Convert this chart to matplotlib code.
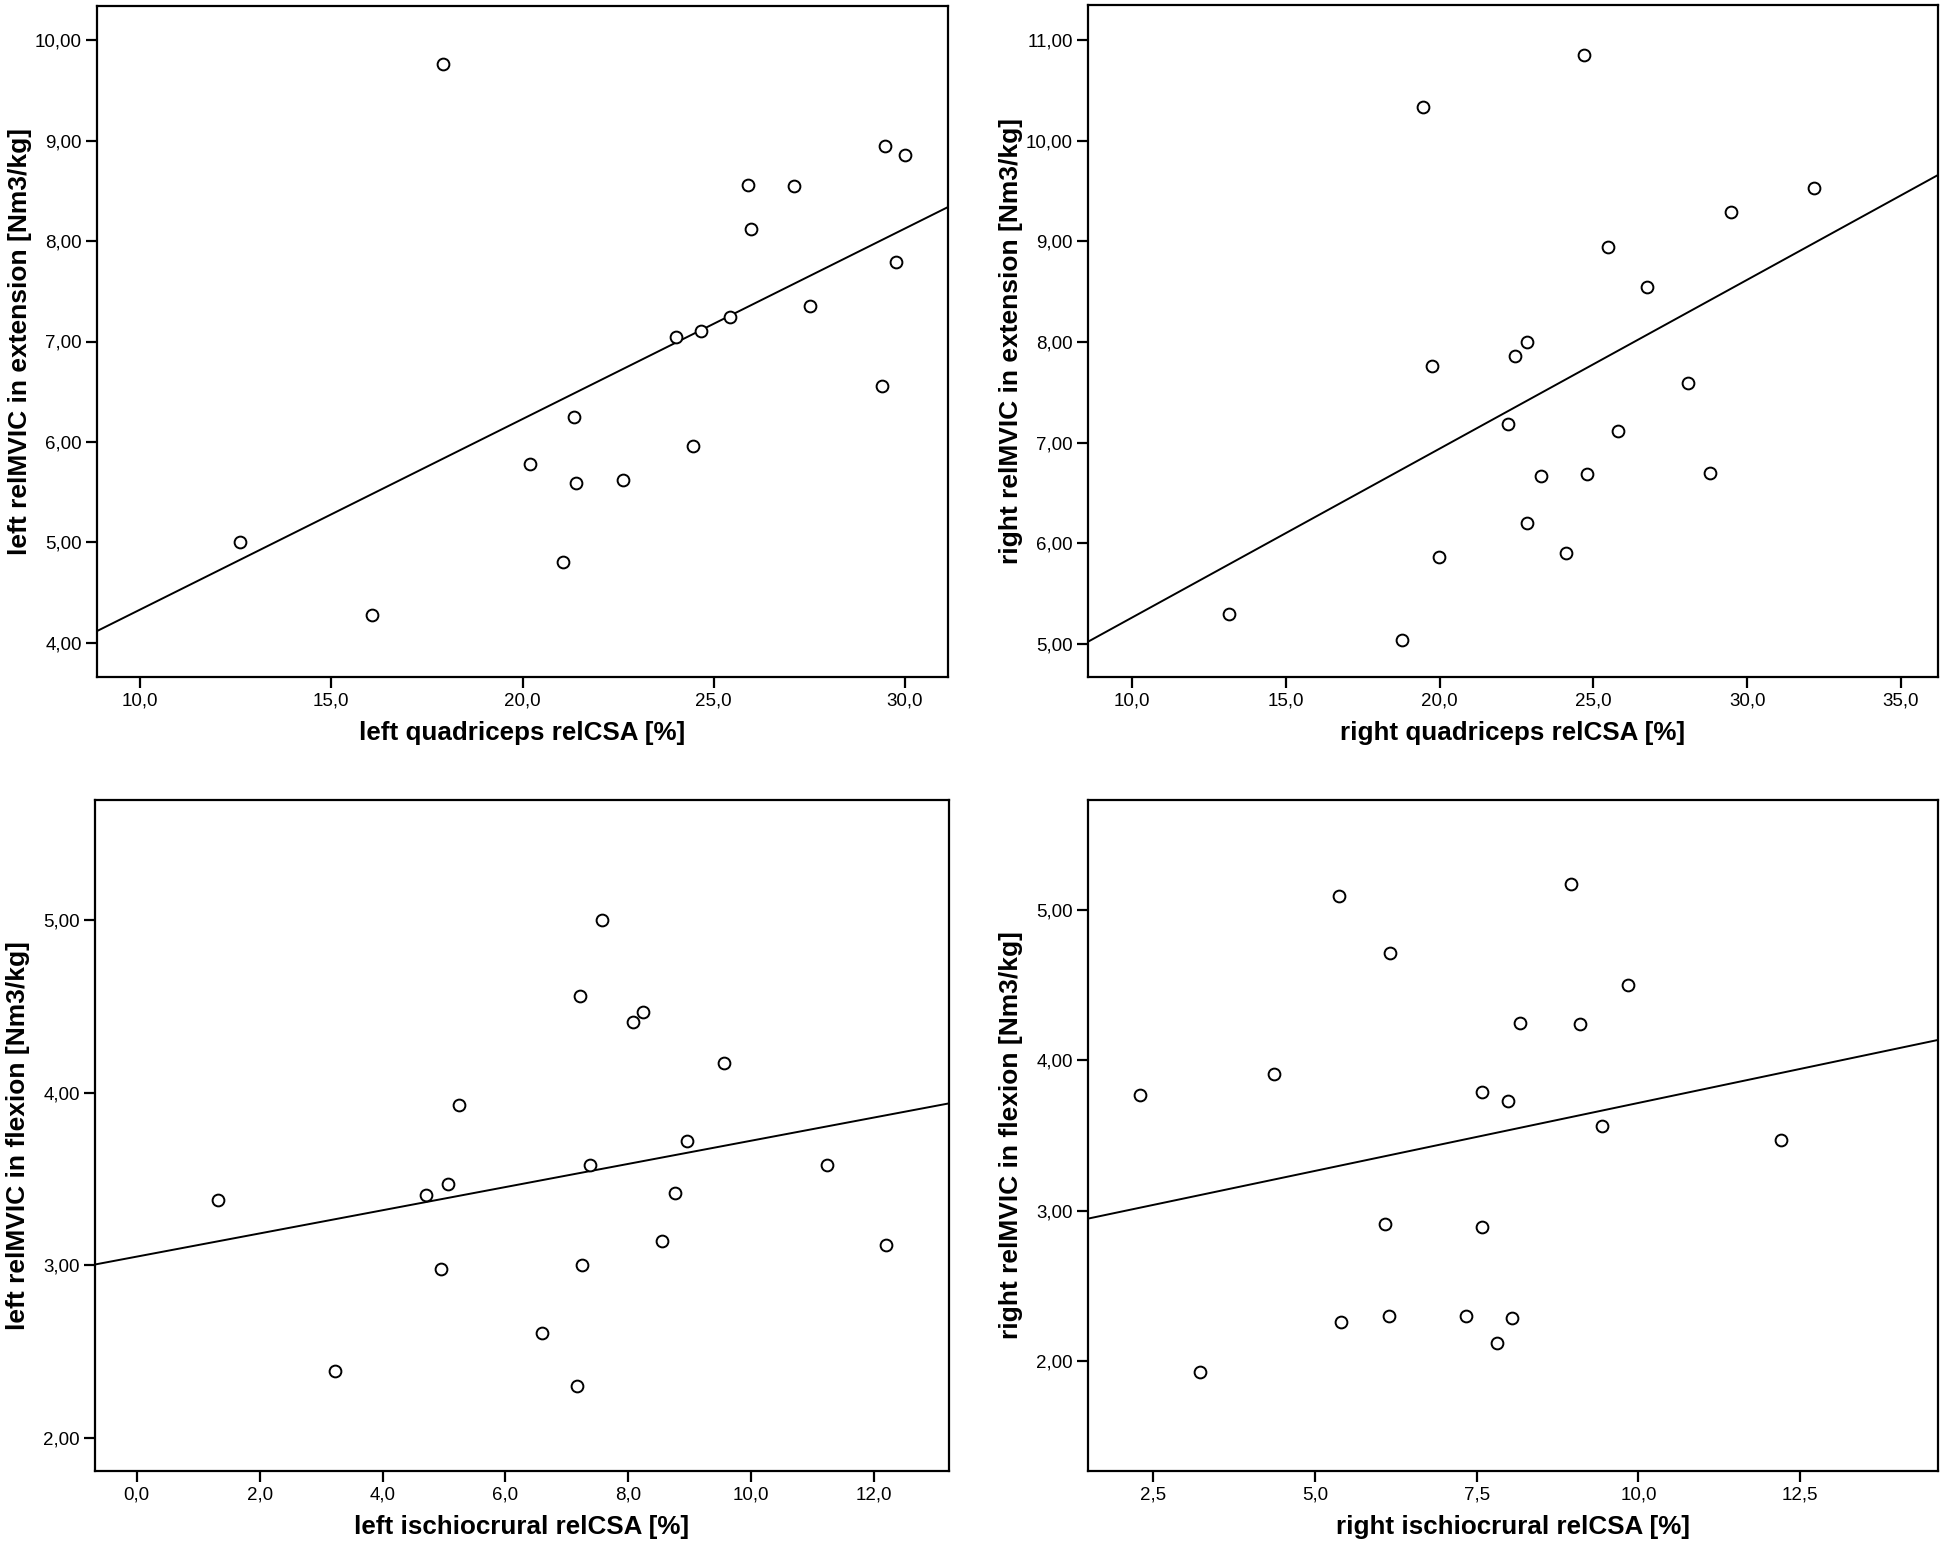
import numpy as np
import matplotlib
matplotlib.use("Agg")
import matplotlib.pyplot as plt
from matplotlib.ticker import FuncFormatter, FixedLocator

# ---------------- data ----------------
left_quad_csa = [12.60, 16.07, 17.93, 20.19, 21.07, 21.36, 21.40, 22.64, 24.01, 24.45,
                 24.68, 25.44, 25.90, 25.97, 27.11, 27.53, 29.40, 29.48, 29.77, 30.00]
left_ext_mvic = [5.00, 4.28, 9.76, 5.78, 4.80, 6.25, 5.59, 5.62, 7.04, 5.96,
                 7.10, 7.24, 8.56, 8.12, 8.55, 7.35, 6.56, 8.95, 7.79, 8.86]

right_quad_csa = [13.16, 18.79, 19.47, 19.76, 19.98, 22.23, 22.45, 22.83, 22.83, 23.28,
                  24.11, 24.70, 24.78, 25.47, 25.81, 26.74, 28.06, 28.79, 29.47, 32.17]
right_ext_mvic = [5.30, 5.04, 10.34, 7.76, 5.86, 7.18, 7.86, 8.00, 6.20, 6.67,
                  5.90, 10.85, 6.69, 8.94, 7.12, 8.55, 7.59, 6.70, 9.29, 9.53]

left_isch_csa = [1.32, 3.22, 4.71, 4.95, 5.06, 5.24, 6.59, 7.17, 7.21, 7.25,
                 7.37, 7.57, 8.07, 8.24, 8.55, 8.76, 8.96, 9.55, 11.24, 12.19]
left_flex_mvic = [3.377, 2.39, 3.41, 2.98, 3.47, 3.93, 2.61, 2.30, 4.56, 3.00,
                  3.58, 5.00, 4.41, 4.47, 3.14, 3.42, 3.72, 4.17, 3.58, 3.12]

right_isch_csa = [2.30, 3.22, 4.375, 5.375, 5.40, 6.08, 6.14, 6.16, 7.34, 7.58,
                  7.58, 7.82, 7.98, 8.04, 8.17, 8.96, 9.10, 9.44, 9.84, 12.20]
right_flex_mvic = [3.77, 1.93, 3.91, 5.09, 2.26, 2.91, 2.30, 4.71, 2.30, 3.79,
                   2.89, 2.12, 3.73, 2.29, 4.245, 5.17, 4.24, 3.56, 4.50, 3.47]

x_labels = ["left quadriceps relCSA [%]", "right quadriceps relCSA [%]",
            "left ischiocrural relCSA [%]", "right ischiocrural relCSA [%]"]
y_labels = ["left relMVIC in extension [Nm3/kg]", "right relMVIC in extension [Nm3/kg]",
            "left relMVIC in flexion [Nm3/kg]", "right relMVIC in flexion [Nm3/kg]"]

x_ticks = [[10, 15, 20, 25, 30], [10, 15, 20, 25, 30, 35],
           [0, 2, 4, 6, 8, 10, 12], [2.5, 5, 7.5, 10, 12.5]]
y_ticks = [[4, 5, 6, 7, 8, 9, 10], [5, 6, 7, 8, 9, 10, 11],
           [2, 3, 4, 5], [2, 3, 4, 5]]
x_lims = [(8.87, 31.13), (8.57, 36.2), (-0.68, 13.22), (1.495, 14.63)]
y_lims = [(3.66, 10.34), (4.67, 11.35), (1.81, 5.695), (1.27, 5.73)]

xs = [left_quad_csa, right_quad_csa, left_isch_csa, right_isch_csa]
ys = [left_ext_mvic, right_ext_mvic, left_flex_mvic, right_flex_mvic]

label_font = "Liberation Sans"
tick_font = "Liberation Sans"

W, H = 1946, 1546
fig = plt.figure(figsize=(W / 100, H / 100), dpi=100)

# axes boxes in pixels: left, top, right, bottom
boxes = [(97, 6, 948, 677), (1088, 5, 1938, 677),
         (95, 800, 949, 1471), (1088, 800, 1938, 1471)]

def comma_fmt(decimals):
    return FuncFormatter(lambda v, p: f"{v:.{decimals}f}".replace(".", ","))

for i in range(4):
    l, t, r, b = boxes[i]
    ax = fig.add_axes([l / W, 1 - b / H, (r - l) / W, (b - t) / H])
    x = np.array(xs[i]); y = np.array(ys[i])
    ax.scatter(x, y, s=72, facecolors="white", edgecolors="black", linewidths=1.4, zorder=3)
    slope, intercept = np.polyfit(x, y, 1)
    xl = np.array(x_lims[i])
    ax.plot(xl, intercept + slope * xl, color="black", lw=1.4, zorder=2)
    ax.set_xlim(*x_lims[i]); ax.set_ylim(*y_lims[i])
    ax.xaxis.set_major_locator(FixedLocator(x_ticks[i]))
    ax.yaxis.set_major_locator(FixedLocator(y_ticks[i]))
    ax.xaxis.set_major_formatter(comma_fmt(1))
    ax.yaxis.set_major_formatter(comma_fmt(2))
    ax.tick_params(direction="out", length=8, width=1.6, pad=3, labelsize=13.5,
                   top=False, right=False)
    for lab in ax.get_xticklabels() + ax.get_yticklabels():
        lab.set_fontfamily(tick_font)
    for sp in ax.spines.values():
        sp.set_linewidth(1.6)
    ax.set_xlabel(x_labels[i], fontsize=18.7, fontweight="bold", fontfamily=label_font)
    ax.set_ylabel(y_labels[i], fontsize=19, fontweight="bold", fontfamily=label_font)
    ax.xaxis.set_label_coords(0.5, -44 / (b - t))
    ax.yaxis.set_label_coords(-65 / (r - l), 0.5)

fig.savefig("out.png", dpi=100)
